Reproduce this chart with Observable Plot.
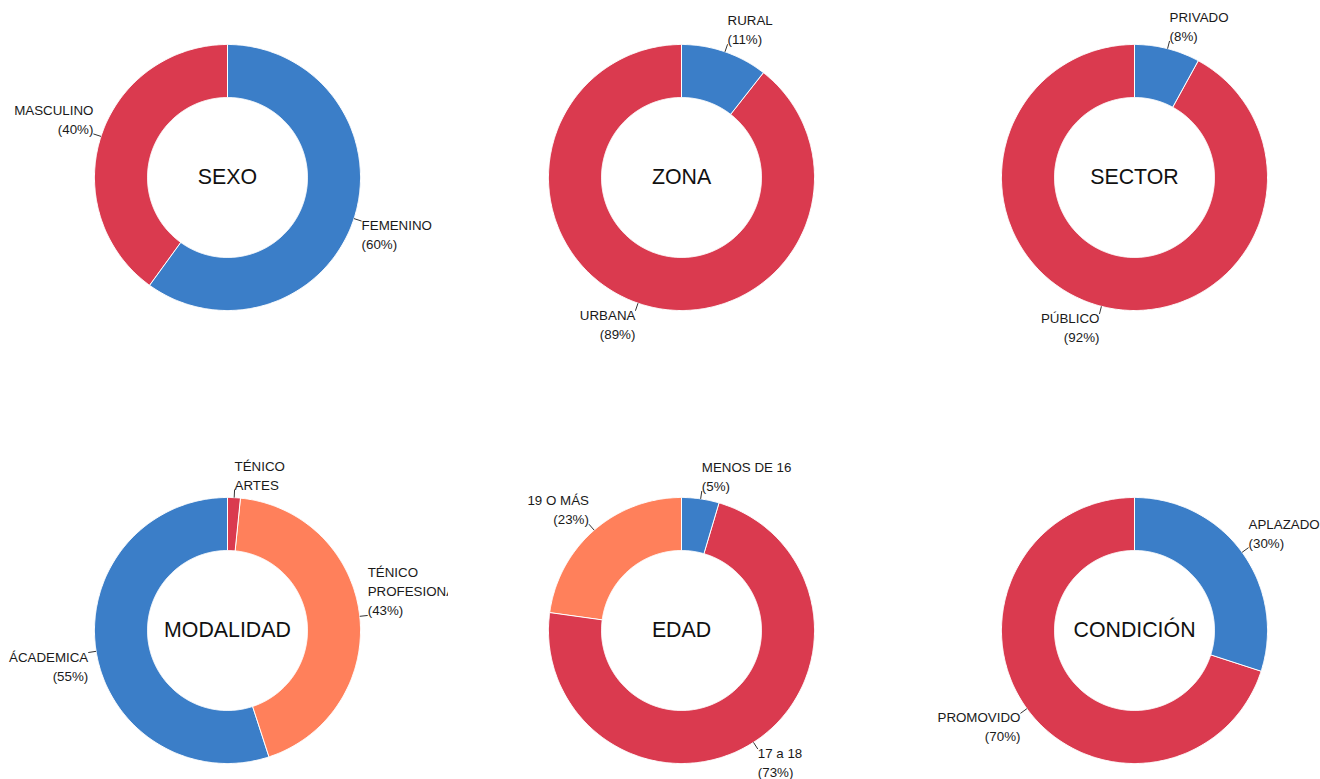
<!DOCTYPE html>
<html><head><meta charset="utf-8">
<script src="https://cdn.jsdelivr.net/npm/d3@7"></script>
<script src="https://cdn.jsdelivr.net/npm/@observablehq/plot@0.6"></script>
<style>
body{margin:0;overflow:hidden;background:#fff;font-family:"Liberation Sans",Arial,sans-serif;}
#grid{display:grid;grid-template-columns:repeat(3,453.5px);grid-auto-rows:453px;width:1361px;}
.cell{width:448px;height:453px;overflow:hidden;}
</style></head><body><div id="grid"></div>
<script>
// ---- data ----
const titles = ["SEXO","ZONA","SECTOR","MODALIDAD","EDAD","CONDICIÓN"];

const sexoCategories = ["FEMENINO","MASCULINO"];
const sexoValues = [60,40];
const sexoLabels = ["FEMENINO\n(60%)","MASCULINO\n(40%)"];

const zonaCategories = ["RURAL","URBANA"];
const zonaValues = [10.6,89.4];
const zonaLabels = ["RURAL\n(11%)","URBANA\n(89%)"];

const sectorCategories = ["PRIVADO","PÚBLICO"];
const sectorValues = [8,92];
const sectorLabels = ["PRIVADO\n(8%)","PÚBLICO\n(92%)"];

const modalidadCategories = ["TÉNICO ARTES","TÉNICO PROFESIONAL","ÁCADEMICA"];
const modalidadValues = [1.6,43.4,55];
const modalidadLabels = ["TÉNICO\nARTES","TÉNICO\nPROFESIONAL\n(43%)","ÁCADEMICA\n(55%)"];

const edadCategories = ["MENOS DE 16","17 a 18","19 O MÁS"];
const edadValues = [4.6,72.6,22.8];
const edadLabels = ["MENOS DE 16\n(5%)","17 a 18\n(73%)","19 O MÁS\n(23%)"];

const condicionCategories = ["APLAZADO","PROMOVIDO"];
const condicionValues = [30,70];
const condicionLabels = ["APLAZADO\n(30%)","PROMOVIDO\n(70%)"];

// ---- styles / layout ----
const BLUE="#3b7ec8", RED="#da3a4f", ORANGE="#ff805b";
const charts = [
  {title:titles[0], cats:sexoCategories, values:sexoValues, labels:sexoLabels, colors:[BLUE,RED]},
  {title:titles[1], cats:zonaCategories, values:zonaValues, labels:zonaLabels, colors:[BLUE,RED]},
  {title:titles[2], cats:sectorCategories, values:sectorValues, labels:sectorLabels, colors:[BLUE,RED]},
  {title:titles[3], cats:modalidadCategories, values:modalidadValues, labels:modalidadLabels, colors:[RED,ORANGE,BLUE]},
  {title:titles[4], cats:edadCategories, values:edadValues, labels:edadLabels, colors:[BLUE,RED,ORANGE]},
  {title:titles[5], cats:condicionCategories, values:condicionValues, labels:condicionLabels, colors:[BLUE,RED]}
];
const R_OUT=133, R_IN=80, R_LAB=141;
const CX=227, CY=177, W=448, H=453;
const FONT = "'Liberation Sans', Arial, sans-serif";

function build(c){
  const total = d3.sum(c.values);
  let acc = 0;
  const slices = c.values.map((v,i)=>{
    const a0 = acc/total*2*Math.PI; acc += v; const a1 = acc/total*2*Math.PI;
    return {cat:c.cats[i], label:c.labels[i], a0, a1, mid:(a0+a1)/2};
  });
  const pts = [];
  for (const s of slices){
    const n = Math.max(2, Math.ceil((s.a1-s.a0)/(Math.PI/360)));
    for (let k=0;k<=n;k++){const a=s.a0+(s.a1-s.a0)*k/n; pts.push({cat:s.cat,x:R_OUT*Math.sin(a),y:-R_OUT*Math.cos(a)});}
    for (let k=n;k>=0;k--){const a=s.a0+(s.a1-s.a0)*k/n; pts.push({cat:s.cat,x:R_IN*Math.sin(a),y:-R_IN*Math.cos(a)});}
  }
  const labs = slices.map(s=>({
    ...s,
    x1:R_OUT*Math.sin(s.mid), y1:-R_OUT*Math.cos(s.mid),
    x:R_LAB*Math.sin(s.mid), y:-R_LAB*Math.cos(s.mid),
    right: Math.sin(s.mid) >= 0, lower: Math.cos(s.mid) < 0
  }));
  const textMarks = [];
  for (const right of [true,false]) for (const lower of [true,false]) {
    textMarks.push(Plot.text(labs.filter(d=>d.right===right && d.lower===lower), {
      x:"x", y:"y", text:"label",
      textAnchor: right ? "start" : "end",
      lineAnchor: lower ? "top" : "bottom",
      dy: lower ? -4.5 : 0,
      fontSize: 13.33, lineHeight: 1.425, fill:"#1a1a1a"
    }));
  }
  return Plot.plot({
    width: W, height: H, margin: 0,
    style: {fontFamily: FONT, background: "white", overflow: "hidden"},
    x: {type:"linear", domain:[-CX, W-CX], range:[0,W], axis:null},
    y: {type:"linear", domain:[-CY, H-CY], range:[0,H], axis:null},
    color: {domain: c.cats, range: c.colors},
    marks: [
      Plot.line(pts, {x:"x", y:"y", z:"cat", fill:"cat", stroke:"white", strokeWidth:1, curve:"linear-closed"}),
      Plot.link(labs, {x1:"x1", y1:"y1", x2:"x", y2:"y", stroke:"#333", strokeWidth:1}),
      ...textMarks,
      Plot.text([{x:0,y:0,t:c.title}], {x:"x", y:"y", text:"t", fontSize:21.33, fill:"#111", lineAnchor:"middle"})
    ]
  });
}

const grid = document.getElementById("grid");
for (const c of charts){
  const cell = document.createElement("div");
  cell.className = "cell";
  cell.appendChild(build(c));
  grid.appendChild(cell);
}
</script></body></html>
